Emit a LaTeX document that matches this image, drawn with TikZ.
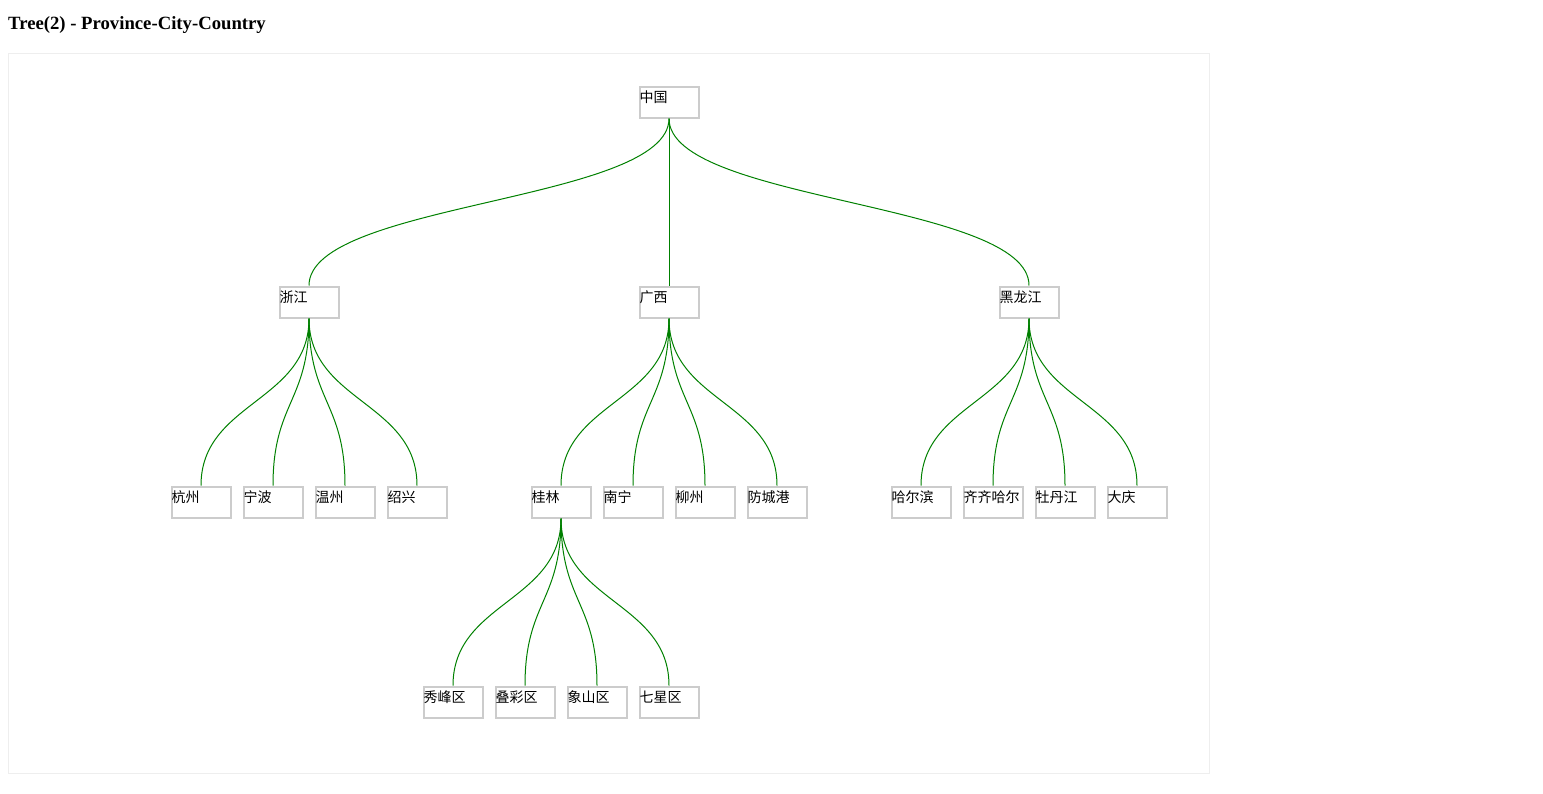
\documentclass[tikz,border=0pt]{standalone}
\usepackage{fontspec}
\newfontfamily\cjk{Noto Sans CJK SC}
\newfontfamily\titlefont{Liberation Serif}
\usetikzlibrary{calc}
\definecolor{boxgray}{HTML}{CCCCCC}
\definecolor{framegray}{HTML}{EEEEEE}
\definecolor{linkgreen}{HTML}{008000}
\tikzset{
  lbl/.style={anchor=base west, inner sep=0pt, xshift=1pt, yshift=-17pt, font=\cjk\fontsize{14pt}{14pt}\selectfont, text=black},
  box/.style={draw=boxgray, line width=2pt, fill=white, minimum width=59pt, minimum height=31pt, inner sep=0pt, outer sep=1pt, label={[lbl]north west:#1}},
  link/.style={draw=linkgreen, line width=1pt},
  frame/.style={draw=framegray, line width=1pt},
  title/.style={anchor=base west, inner sep=0pt, font=\titlefont\bfseries\fontsize{18.7pt}{20pt}\selectfont}
}
\newcommand\treelink[2]{%
  \path ($(#1.south)!0.5!(#2.north)$) coordinate (m);
  \draw[link] (#1.south) .. controls (#1.south |- m) and (#2.north |- m) .. (#2.north);}
\begin{document}
\begin{tikzpicture}[x=1pt,y=-1pt]
\useasboundingbox (0,0) rectangle (1543,793);
\node[title] (ttl) at (8,29) {Tree(2) - Province-City-Country};
\draw[frame] (8.5,53.5) rectangle (1209.5,773.5);
% level 0
\node[box=中国] (zg) at (669,102) {};
% level 1
\node[box=浙江] (zj) at (309,302) {};
\node[box=广西] (gx) at (669,302) {};
\node[box=黑龙江] (hlj) at (1029,302) {};
% level 2
\node[box=杭州] (hz) at (201,502) {};
\node[box=宁波] (nb) at (273,502) {};
\node[box=温州] (wz) at (345,502) {};
\node[box=绍兴] (sx) at (417,502) {};
\node[box=桂林] (gl) at (561,502) {};
\node[box=南宁] (nn) at (633,502) {};
\node[box=柳州] (lz) at (705,502) {};
\node[box=防城港] (fcg) at (777,502) {};
\node[box=哈尔滨] (heb) at (921,502) {};
\node[box=齐齐哈尔] (qqhe) at (993,502) {};
\node[box=牡丹江] (mdj) at (1065,502) {};
\node[box=大庆] (dq) at (1137,502) {};
% level 3
\node[box=秀峰区] (xf) at (453,702) {};
\node[box=叠彩区] (dc) at (525,702) {};
\node[box=象山区] (xs) at (597,702) {};
\node[box=七星区] (qx) at (669,702) {};
% links
\treelink{zg}{zj}
\treelink{zg}{gx}
\treelink{zg}{hlj}
\treelink{zj}{hz}
\treelink{zj}{nb}
\treelink{zj}{wz}
\treelink{zj}{sx}
\treelink{gx}{gl}
\treelink{gx}{nn}
\treelink{gx}{lz}
\treelink{gx}{fcg}
\treelink{hlj}{heb}
\treelink{hlj}{qqhe}
\treelink{hlj}{mdj}
\treelink{hlj}{dq}
\treelink{gl}{xf}
\treelink{gl}{dc}
\treelink{gl}{xs}
\treelink{gl}{qx}
\end{tikzpicture}
\end{document}
